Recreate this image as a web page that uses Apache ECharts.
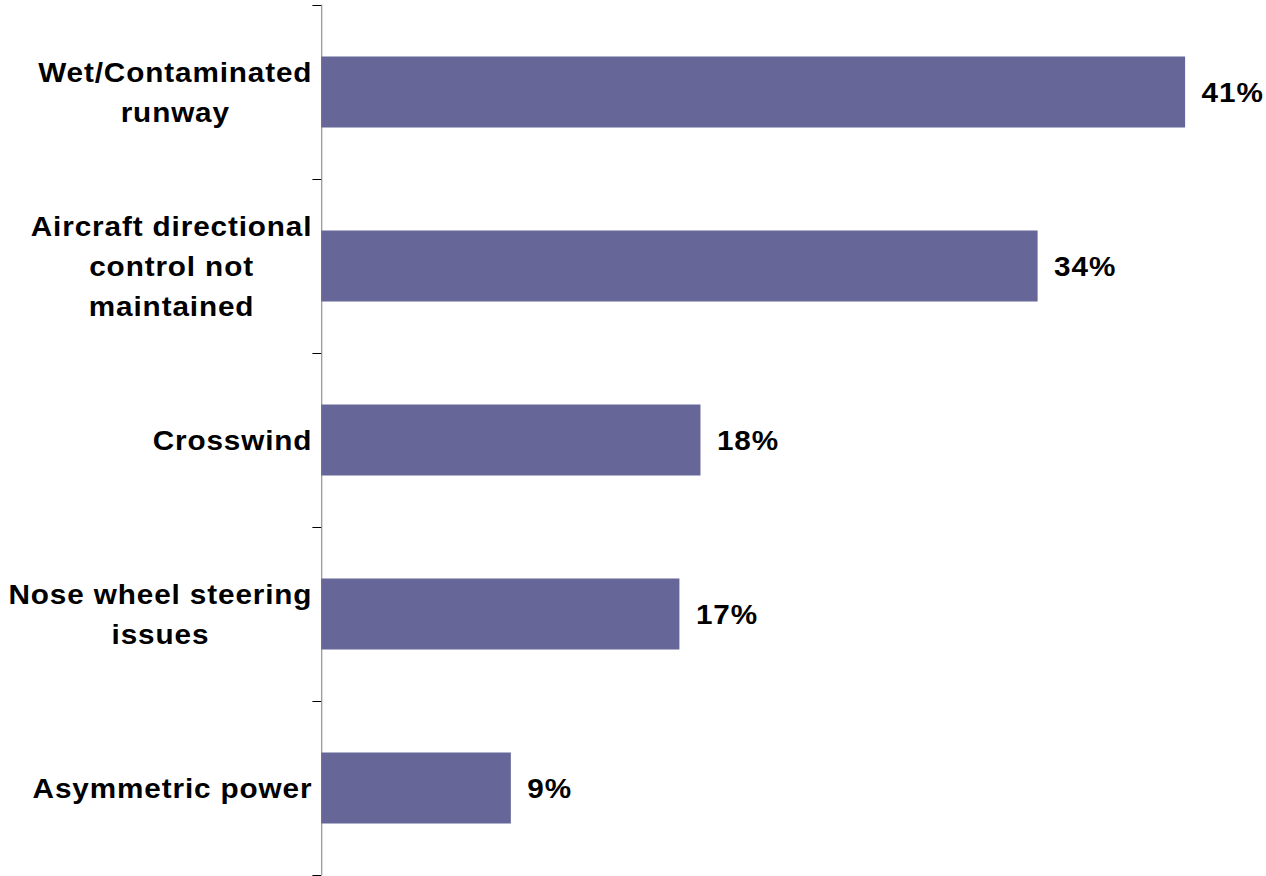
<!DOCTYPE html>
<html>
<head>
<meta charset="utf-8">
<script src="https://cdn.jsdelivr.net/npm/echarts@6/dist/echarts.min.js"></script>
<style>
  html, body { margin: 0; padding: 0; background: #fff; overflow: hidden; }
  /* the chart is laid out narrower and widened horizontally, giving the wide lettering */
  #chart { width: 1151px; height: 876px; transform: scaleX(1.1); transform-origin: 0 0; }
  #chart svg text { letter-spacing: 0.8px; }
</style>
</head>
<body>
<div id="chart"></div>
<script>
// Contributing factors (share of events, %)
const categories = [
  'Wet/Contaminated\nrunway',
  'Aircraft directional\ncontrol not\nmaintained',
  'Crosswind',
  'Nose wheel steering\nissues',
  'Asymmetric power'
];
const shares = [41, 34, 18, 17, 9];

const FONT = '"Liberation Sans", Arial, sans-serif';
const FONT_SIZE = 27;
const SPACING = 0.8;

// measure the widest line of a label, including tracking
const mctx = document.createElement('canvas').getContext('2d');
mctx.font = 'bold ' + FONT_SIZE + 'px ' + FONT;
const nativeSpacing = ('letterSpacing' in mctx);
if (nativeSpacing) mctx.letterSpacing = SPACING + 'px';
function blockWidth(text) {
  return Math.max(...text.split('\n').map(function (line) {
    let w = mctx.measureText(line).width;
    if (!nativeSpacing) w += SPACING * line.length;
    return w;
  }));
}

// each label block is centred line-by-line and pushed left so its right edge sits by the axis
const yData = categories.map(function (c) {
  return { value: c, textStyle: { align: 'center', padding: [0, blockWidth(c), 0, 0] } };
});

const chart = echarts.init(document.getElementById('chart'), null, { renderer: 'svg' });
chart.setOption({
  animation: false,
  backgroundColor: '#ffffff',
  grid: { left: 292, top: 5, width: 862, height: 870, containLabel: false, outerBoundsMode: 'none' },
  xAxis: {
    type: 'value', min: 0, max: 45, show: false,
    splitLine: { show: false }
  },
  yAxis: {
    type: 'category',
    inverse: true,
    data: yData,
    axisLine: { show: true, lineStyle: { color: '#808080', width: 0.95 } },
    axisTick: { show: true, length: 8, lineStyle: { color: '#000000', width: 1 } },
    axisLabel: {
      interval: 0, margin: 8, color: '#000000',
      fontFamily: FONT, fontWeight: 'bold', fontSize: FONT_SIZE, lineHeight: 40
    },
    splitLine: { show: false }
  },
  series: [{
    type: 'bar',
    data: shares,
    barWidth: 71,
    itemStyle: { color: '#666699' },
    label: {
      show: true, position: 'right', distance: 15,
      formatter: '{c}%', color: '#000000',
      fontFamily: FONT, fontWeight: 'bold', fontSize: FONT_SIZE
    }
  }]
});
</script>
</body>
</html>
